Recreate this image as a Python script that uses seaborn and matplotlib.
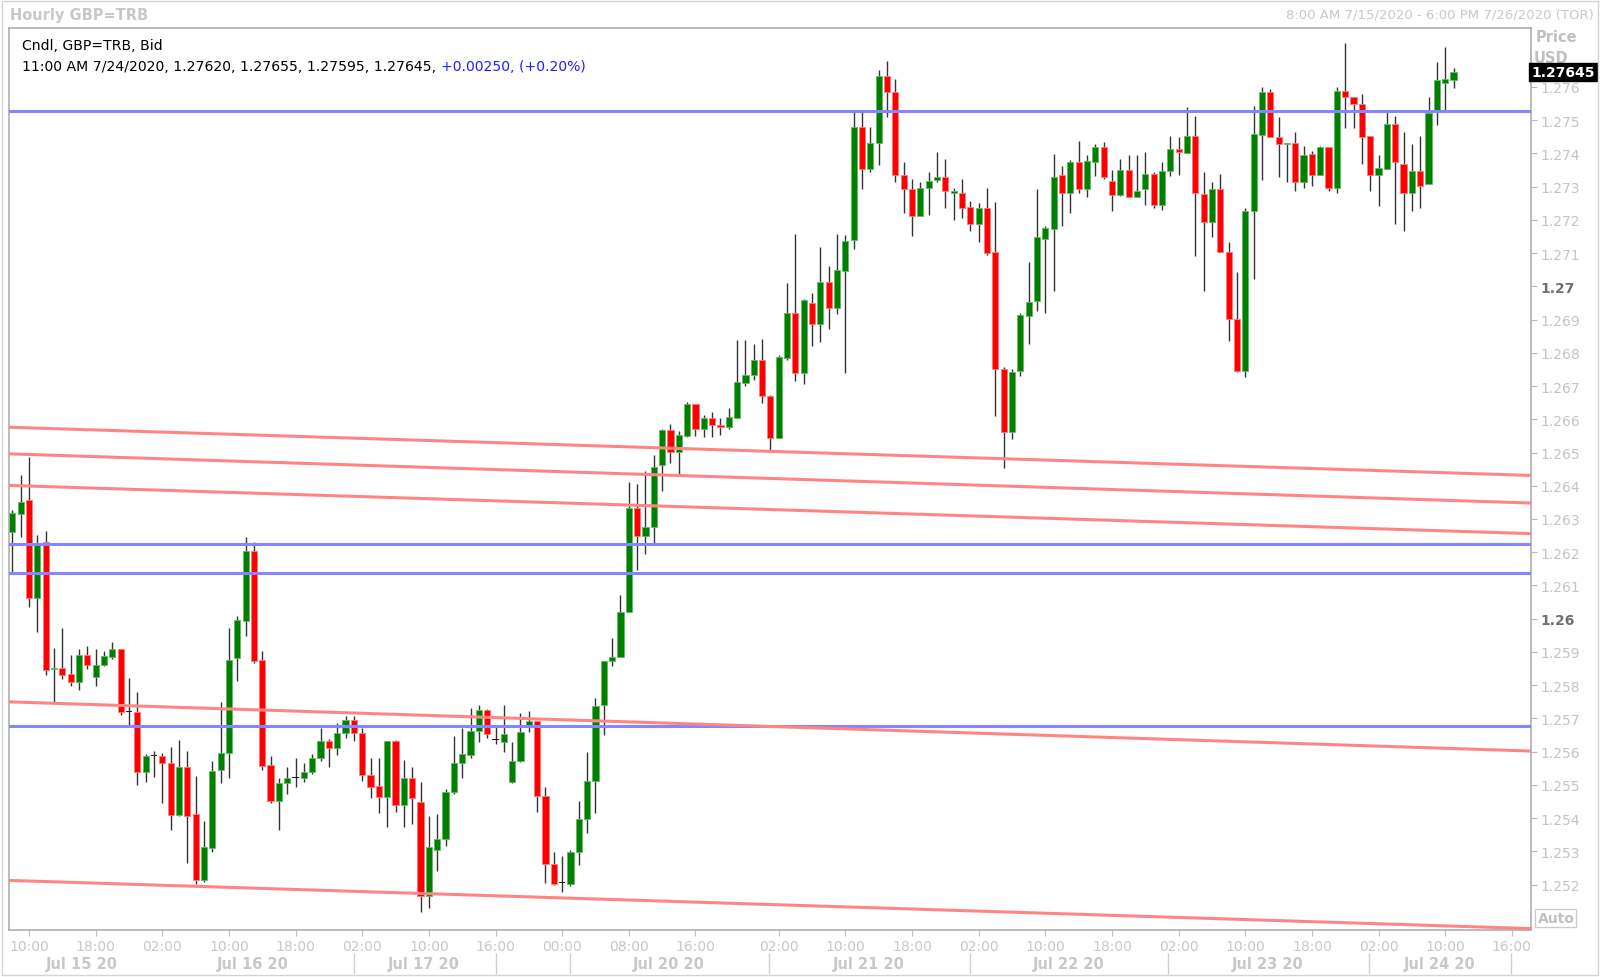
import matplotlib
matplotlib.use("Agg")
import matplotlib.pyplot as plt
from matplotlib.patches import Rectangle
import numpy as np
import seaborn as sns

# hourly GBP=TRB candles, Jul 15 08:00 -> Jul 24 11:00 (bar index on x)
opens = [
    1.26262, 1.26316, 1.26357, 1.26062, 1.26230, 1.25849, 1.25851, 1.25834, 1.25811, 1.25891,
    1.25826, 1.25861, 1.25886, 1.25909, 1.25720, 1.25720, 1.25540, 1.25586, 1.25586, 1.25566,
    1.25410, 1.25553, 1.25413, 1.25215, 1.25309, 1.25546, 1.25595, 1.25881, 1.25994, 1.26203,
    1.25876, 1.25561, 1.25453, 1.25506, 1.25520, 1.25520, 1.25540, 1.25580, 1.25633, 1.25610,
    1.25655, 1.25695, 1.25655, 1.25531, 1.25496, 1.25465, 1.25633, 1.25440, 1.25520, 1.25450,
    1.25165, 1.25305, 1.25339, 1.25480, 1.25566, 1.25590, 1.25661, 1.25726, 1.25635, 1.25630,
    1.25509, 1.25571, 1.25680, 1.25692, 1.25466, 1.25263, 1.25204, 1.25202, 1.25297, 1.25398,
    1.25513, 1.25740, 1.25874, 1.25886, 1.26020, 1.26332, 1.26249, 1.26276, 1.26463, 1.26567,
    1.26502, 1.26550, 1.26647, 1.26570, 1.26603, 1.26584, 1.26576, 1.26603, 1.26710, 1.26733,
    1.26778, 1.26671, 1.26545, 1.26783, 1.26921, 1.26738, 1.26951, 1.26886, 1.27014, 1.26936,
    1.27047, 1.27139, 1.27478, 1.27353, 1.27431, 1.27631, 1.27583, 1.27336, 1.27293, 1.27212,
    1.27296, 1.27320, 1.27328, 1.27282, 1.27282, 1.27237, 1.27187, 1.27234, 1.27102, 1.26751,
    1.26562, 1.26746, 1.26911, 1.26956, 1.27142, 1.27172, 1.27335, 1.27280, 1.27375, 1.27292,
    1.27375, 1.27418, 1.27318, 1.27274, 1.27350, 1.27267, 1.27292, 1.27338, 1.27245, 1.27348,
    1.27413, 1.27401, 1.27451, 1.27277, 1.27192, 1.27294, 1.27102, 1.26901, 1.26746, 1.27227,
    1.27455, 1.27583, 1.27448, 1.27428, 1.27431, 1.27315, 1.27398, 1.27336, 1.27418, 1.27296,
    1.27588, 1.27568, 1.27548, 1.27451, 1.27335, 1.27353, 1.27488, 1.27368, 1.27282, 1.27348,
    1.27307, 1.27528, 1.27610, 1.27620,
]
highs = [
    1.26327, 1.26433, 1.26486, 1.26252, 1.26263, 1.25911, 1.25971, 1.25891, 1.25909, 1.25917,
    1.25909, 1.25902, 1.25931, 1.25909, 1.25821, 1.25781, 1.25593, 1.25601, 1.25595, 1.25613,
    1.25635, 1.25601, 1.25526, 1.25392, 1.25573, 1.25749, 1.25971, 1.26009, 1.26245, 1.26232,
    1.25902, 1.25586, 1.25520, 1.25553, 1.25580, 1.25566, 1.25593, 1.25670, 1.25638, 1.25686,
    1.25708, 1.25708, 1.25670, 1.25581, 1.25581, 1.25633, 1.25636, 1.25575, 1.25553, 1.25510,
    1.25408, 1.25413, 1.25488, 1.25646, 1.25670, 1.25733, 1.25741, 1.25730, 1.25680, 1.25741,
    1.25628, 1.25716, 1.25722, 1.25692, 1.25493, 1.25297, 1.25285, 1.25303, 1.25452, 1.25600,
    1.25761, 1.25874, 1.25942, 1.26070, 1.26412, 1.26406, 1.26445, 1.26493, 1.26572, 1.26586,
    1.26564, 1.26651, 1.26647, 1.26612, 1.26621, 1.26603, 1.26633, 1.26838, 1.26838, 1.26826,
    1.26841, 1.26673, 1.26793, 1.27009, 1.27157, 1.26961, 1.26981, 1.27117, 1.27062, 1.27157,
    1.27154, 1.27523, 1.27523, 1.27478, 1.27649, 1.27679, 1.27623, 1.27373, 1.27323, 1.27315,
    1.27343, 1.27403, 1.27383, 1.27295, 1.27323, 1.27257, 1.27249, 1.27295, 1.27254, 1.26756,
    1.26750, 1.26919, 1.27074, 1.27294, 1.27182, 1.27398, 1.27363, 1.27380, 1.27438, 1.27395,
    1.27428, 1.27433, 1.27350, 1.27383, 1.27395, 1.27395, 1.27403, 1.27343, 1.27375, 1.27451,
    1.27448, 1.27538, 1.27511, 1.27343, 1.27314, 1.27338, 1.27134, 1.27042, 1.27234, 1.27543,
    1.27599, 1.27593, 1.27508, 1.27431, 1.27463, 1.27423, 1.27408, 1.27423, 1.27418, 1.27599,
    1.27732, 1.27568, 1.27578, 1.27451, 1.27395, 1.27523, 1.27511, 1.27463, 1.27428, 1.27451,
    1.27568, 1.27674, 1.27719, 1.27655,
]
lows = [
    1.26140, 1.26245, 1.26034, 1.25961, 1.25831, 1.25751, 1.25819, 1.25799, 1.25786, 1.25849,
    1.25799, 1.25859, 1.25879, 1.25710, 1.25678, 1.25500, 1.25510, 1.25525, 1.25445, 1.25364,
    1.25406, 1.25264, 1.25202, 1.25209, 1.25299, 1.25505, 1.25520, 1.25814, 1.25949, 1.25866,
    1.25546, 1.25446, 1.25364, 1.25473, 1.25493, 1.25510, 1.25533, 1.25573, 1.25553, 1.25590,
    1.25640, 1.25631, 1.25513, 1.25460, 1.25415, 1.25374, 1.25418, 1.25374, 1.25384, 1.25117,
    1.25130, 1.25240, 1.25317, 1.25473, 1.25520, 1.25580, 1.25630, 1.25640, 1.25623, 1.25600,
    1.25505, 1.25568, 1.25660, 1.25418, 1.25204, 1.25200, 1.25178, 1.25196, 1.25260, 1.25356,
    1.25416, 1.25651, 1.25858, 1.25886, 1.26020, 1.26148, 1.26195, 1.26227, 1.26383, 1.26469,
    1.26433, 1.26546, 1.26550, 1.26546, 1.26546, 1.26552, 1.26572, 1.26603, 1.26699, 1.26719,
    1.26650, 1.26502, 1.26543, 1.26778, 1.26716, 1.26706, 1.26821, 1.26831, 1.26871, 1.26916,
    1.26738, 1.27112, 1.27294, 1.27343, 1.27365, 1.27510, 1.27313, 1.27220, 1.27152, 1.27212,
    1.27215, 1.27313, 1.27234, 1.27200, 1.27205, 1.27165, 1.27134, 1.27094, 1.26610, 1.26452,
    1.26540, 1.26730, 1.26826, 1.26926, 1.26919, 1.26987, 1.27182, 1.27220, 1.27282, 1.27267,
    1.27332, 1.27323, 1.27227, 1.27272, 1.27267, 1.27267, 1.27245, 1.27234, 1.27230, 1.27333,
    1.27335, 1.27401, 1.27092, 1.26987, 1.27147, 1.27102, 1.26836, 1.26741, 1.26726, 1.27022,
    1.27321, 1.27448, 1.27328, 1.27313, 1.27287, 1.27297, 1.27302, 1.27336, 1.27287, 1.27282,
    1.27476, 1.27476, 1.27368, 1.27287, 1.27242, 1.27353, 1.27187, 1.27167, 1.27227, 1.27234,
    1.27307, 1.27485, 1.27528, 1.27595,
]
closes = [
    1.26317, 1.26351, 1.26062, 1.26222, 1.25847, 1.25850, 1.25831, 1.25811, 1.25891, 1.25861,
    1.25861, 1.25887, 1.25909, 1.25720, 1.25720, 1.25540, 1.25586, 1.25586, 1.25566, 1.25410,
    1.25553, 1.25406, 1.25215, 1.25312, 1.25543, 1.25596, 1.25877, 1.25996, 1.26203, 1.25874,
    1.25558, 1.25453, 1.25506, 1.25520, 1.25520, 1.25540, 1.25581, 1.25631, 1.25610, 1.25655,
    1.25695, 1.25655, 1.25530, 1.25493, 1.25465, 1.25633, 1.25440, 1.25520, 1.25460, 1.25165,
    1.25312, 1.25339, 1.25480, 1.25566, 1.25593, 1.25661, 1.25726, 1.25653, 1.25635, 1.25654,
    1.25573, 1.25660, 1.25692, 1.25466, 1.25263, 1.25202, 1.25204, 1.25297, 1.25398, 1.25513,
    1.25737, 1.25874, 1.25886, 1.26020, 1.26332, 1.26249, 1.26276, 1.26457, 1.26567, 1.26502,
    1.26552, 1.26647, 1.26570, 1.26603, 1.26582, 1.26577, 1.26608, 1.26713, 1.26733, 1.26778,
    1.26671, 1.26545, 1.26788, 1.26921, 1.26738, 1.26958, 1.26886, 1.27014, 1.26936, 1.27049,
    1.27137, 1.27478, 1.27353, 1.27431, 1.27631, 1.27583, 1.27335, 1.27293, 1.27212, 1.27296,
    1.27316, 1.27328, 1.27287, 1.27287, 1.27234, 1.27187, 1.27234, 1.27100, 1.26751, 1.26562,
    1.26741, 1.26913, 1.26953, 1.27147, 1.27174, 1.27328, 1.27280, 1.27375, 1.27292, 1.27378,
    1.27418, 1.27328, 1.27274, 1.27350, 1.27267, 1.27287, 1.27338, 1.27245, 1.27348, 1.27413,
    1.27403, 1.27451, 1.27280, 1.27192, 1.27294, 1.27102, 1.26901, 1.26746, 1.27227, 1.27458,
    1.27583, 1.27448, 1.27428, 1.27431, 1.27315, 1.27395, 1.27336, 1.27418, 1.27296, 1.27588,
    1.27568, 1.27548, 1.27448, 1.27335, 1.27355, 1.27488, 1.27373, 1.27282, 1.27348, 1.27302,
    1.27521, 1.27619, 1.27623, 1.27645,
]

# horizontal levels (blue) and sloped trend lines (red, left value -> right value)
blue_levels = [1.27526, 1.26225, 1.26139, 1.25676]
trend_left = [1.26576, 1.26496, 1.26401, 1.25750, 1.25213]
trend_right = [1.26431, 1.26348, 1.26256, 1.25602, 1.25068]

time_ticks = [2, 10, 18, 26, 34, 42, 50, 58, 66, 74, 82, 92, 100, 108, 116,
              124, 132, 140, 148, 156, 164, 172, 180]
time_labels = ["10:00", "18:00", "02:00", "10:00", "18:00", "02:00", "10:00", "16:00",
               "00:00", "08:00", "16:00", "02:00", "10:00", "18:00", "02:00", "10:00",
               "18:00", "02:00", "10:00", "18:00", "02:00", "10:00", "16:00"]
date_pos = [8.3, 28.9, 49.4, 78.8, 102.8, 126.8, 150.7, 171.3]
date_labels = ["Jul 15 20", "Jul 16 20", "Jul 17 20", "Jul 20 20",
               "Jul 21 20", "Jul 22 20", "Jul 23 20", "Jul 24 20"]
date_seps = [41.0, 58.0, 66.9, 90.8, 114.9, 138.7, 162.9, 179.9]

price_ticks = [1.252, 1.253, 1.254, 1.255, 1.256, 1.257, 1.258, 1.259, 1.260,
               1.261, 1.262, 1.263, 1.264, 1.265, 1.266, 1.267, 1.268, 1.269,
               1.270, 1.271, 1.272, 1.273, 1.274, 1.275, 1.276]
last_price = 1.27645

sns.set_theme(style="white")
plt.rcParams['font.family'] = ['DejaVu Sans']

W, H = 1600, 978
fig = plt.figure(figsize=(W / 100, H / 100), dpi=100)
fig.patch.set_facecolor("white")
ax = fig.add_axes([9 / W, 1 - 930.6 / H, 1522 / W, 902 / H])

o = np.array(opens)
h = np.array(highs)
l = np.array(lows)
c = np.array(closes)
x = np.arange(len(o))

up = c > o
down = c < o
flat = c == o
bottom = np.minimum(o, c)
height = np.maximum(np.abs(c - o), 0.00003)

ax.vlines(x, l, h, color="#333333", linewidth=1.0, zorder=2)
ax.bar(x[up], height[up], bottom=bottom[up], width=0.74, color="#008000",
       edgecolor="#66b866", linewidth=0.6, zorder=2.5)
ax.bar(x[down], height[down], bottom=bottom[down], width=0.74, color="#ff0000",
       edgecolor="#ff7a7a", linewidth=0.6, zorder=2.5)
ax.bar(x[flat], height[flat], bottom=bottom[flat], width=0.74, color="#222222",
       linewidth=0, zorder=2.5)

xmin, xmax = -0.4, 182.3
for lvl in blue_levels:
    ax.axhline(lvl, color="#8585ff", linewidth=2.2, zorder=3)
for a, b in zip(trend_left, trend_right):
    ax.plot([xmin, xmax], [a, b], color="#ff8585", linewidth=2.2, zorder=3)

ax.set_xlim(xmin, xmax)
ax.set_ylim(1.25065, 1.27778)

# right price axis
ax.yaxis.tick_right()
ax.set_yticks(price_ticks, labels=[f"{t:.3f}".rstrip("0") for t in price_ticks])
ax.tick_params(axis="y", which="both", right=True, left=False, direction="out",
               length=4, width=0.8, color="#b8b8b8", labelsize=10,
               labelcolor="#c4c4c4", pad=3)
for lbl in ax.get_yticklabels():
    if lbl.get_text() in ("1.27", "1.26"):
        lbl.set_fontweight("bold")
        lbl.set_color("#707070")

# time axis
ax.set_xticks(time_ticks, labels=time_labels)
ax.tick_params(axis="x", bottom=True, direction="out", length=4, width=0.8,
               color="#c0c0c0", labelsize=10, labelcolor="#c8c8c8", pad=3)
xt = ax.get_xaxis_transform()
for p, s in zip(date_pos, date_labels):
    ax.text(p, -0.0376, s, transform=xt, ha="center", va="center",
            fontsize=10.5, fontweight="bold", color="#c8c8c8", clip_on=False)
ax.vlines(date_seps, -0.049, -0.026, transform=xt, color="#d0d0d0",
          linewidth=1.0, clip_on=False)

for sp in ax.spines.values():
    sp.set_color("#a8a8a8")
    sp.set_linewidth(1.1)

# price panel labels and last price marker
ax.text(1.0164, 0.9898, "Price", transform=ax.transAxes, ha="center", va="center",
        fontsize=10.5, fontweight="bold", color="#c0c0c0", clip_on=False, zorder=4)
ax.text(1.0132, 0.9672, "USD", transform=ax.transAxes, ha="center", va="center",
        fontsize=10.5, fontweight="bold", color="#c0c0c0", clip_on=False, zorder=4)
ax.text(1.021, last_price, f"{last_price:.5f}", transform=ax.get_yaxis_transform(),
        ha="center", va="center", fontsize=10, fontweight="bold", color="white",
        clip_on=False, zorder=6,
        bbox=dict(boxstyle="square,pad=0.15", facecolor="black", edgecolor="black"))
ax.text(1.0164, 0.0129, "Auto", transform=ax.transAxes, ha="center", va="center",
        fontsize=10, fontweight="bold", color="#c0c0c0", clip_on=False, zorder=4,
        bbox=dict(boxstyle="square,pad=0.15", facecolor="white", edgecolor="#cccccc"))

# headers
fig.text(10 / W, 1 - 15.3 / H, "Hourly GBP=TRB", ha="left", va="center",
         fontsize=10.5, fontweight="bold", color="#c8c8c8")
fig.text(1594 / W, 1 - 15.3 / H, "8:00 AM 7/15/2020 - 6:00 PM 7/26/2020 (TOR)",
         ha="right", va="center", fontsize=9.5, color="#c8c8c8")

fig.text(22.5 / W, 1 - 46 / H, "Cndl, GBP=TRB, Bid", ha="left", va="center",
         fontsize=10.1, color="black")
t2 = fig.text(22.5 / W, 1 - 67.3 / H,
              "11:00 AM 7/24/2020, 1.27620, 1.27655, 1.27595, 1.27645,",
              ha="left", va="center", fontsize=10.1, color="black")
ax.annotate("+0.00250, (+0.20%)", xy=(1, 0.5), xycoords=t2, xytext=(3.5, 0),
            textcoords="offset points", ha="left", va="center", fontsize=10.1,
            color="#2020ff", annotation_clip=False)

fig.add_artist(Rectangle((2 / W, 2 / H), 1596 / W, 974 / H, transform=fig.transFigure,
                         fill=False, edgecolor="#d4d4d4", linewidth=1.0))

fig.savefig("out.png", dpi=100)
